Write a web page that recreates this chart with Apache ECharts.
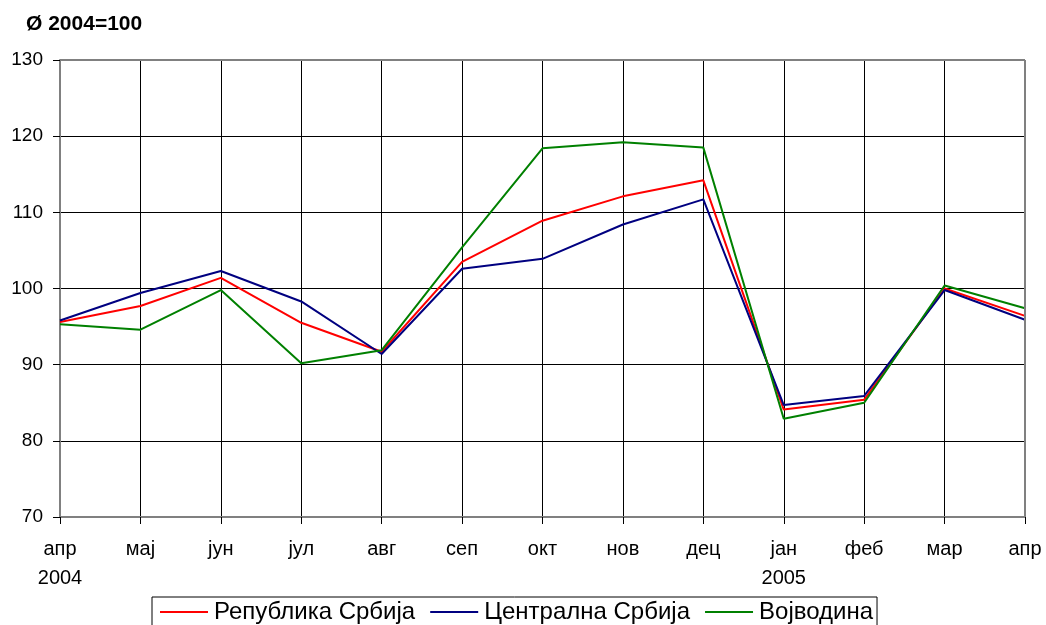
<!DOCTYPE html>
<html>
<head>
<meta charset="utf-8">
<script src="https://cdn.jsdelivr.net/npm/echarts@6/dist/echarts.min.js"></script>
<style>
  html, body { margin: 0; padding: 0; background: #fff; }
  #chart { width: 1046px; height: 625px; }
</style>
</head>
<body>
<div id="chart"></div>
<script>
const months = ["апр\n2004", "мај", "јун", "јул", "авг", "сеп", "окт", "нов", "дец", "јан\n2005", "феб", "мар", "апр"];
const srbija = [95.6, 97.7, 101.4, 95.5, 91.7, 103.5, 108.9, 112.1, 114.2, 84.1, 85.4, 100.0, 96.4];
const centralna = [95.8, 99.4, 102.3, 98.3, 91.4, 102.6, 103.9, 108.4, 111.7, 84.7, 85.9, 99.8, 95.9];
const vojvodina = [95.3, 94.6, 99.8, 90.2, 91.9, 105.4, 118.4, 119.2, 118.5, 82.9, 85.0, 100.4, 97.4];
const seriesNames = ["Република Србија", "Централна Србија", "Војводина"];
const colors = ["#ff0000", "#000080", "#008000"];

let dom = document.getElementById("chart");
let myChart = echarts.init(dom);
let font = "'Liberation Sans', Arial, sans-serif";

let series = [srbija, centralna, vojvodina].map((d, i) => ({
  name: seriesNames[i],
  type: "line",
  symbol: "none",
  smooth: false,
  data: d,
  lineStyle: { color: colors[i], width: 2 },
  itemStyle: { color: colors[i] },
}));

let option = {
  animation: false,
  textStyle: { fontFamily: font },
  title: {
    text: "Ø 2004=100",
    left: 21,
    top: 9,
    textStyle: { fontSize: 21, fontWeight: "bold", color: "#000", fontFamily: font },
  },
  legend: {
    data: seriesNames,
    left: 152,
    top: 597,
    icon: "rect",
    itemWidth: 48,
    itemHeight: 2,
    itemGap: 15,
    padding: [3, 4, 8, 8],
    borderColor: "#000",
    borderWidth: 1,
    textStyle: { fontSize: 24, color: "#000", fontFamily: font, padding: [0, 0, 0, 1] },
  },
  grid: {
    left: 60,
    right: 21,
    top: 60,
    bottom: 108,
    containLabel: false,
    show: false,
  },
  xAxis: {
    type: "category",
    data: months,
    boundaryGap: false,
    axisLine: { show: true, lineStyle: { color: "#808080", width: 2 } },
    axisTick: { show: true, length: 7, lineStyle: { color: "#000" } },
    axisLabel: {
      color: "#000",
      fontSize: 20,
      lineHeight: 29,
      margin: 18,
      interval: 0,
      fontFamily: font,
    },
    splitLine: { show: true, lineStyle: { color: "#000", width: 1 } },
  },
  yAxis: {
    type: "value",
    min: 70,
    max: 130,
    interval: 10,
    axisLine: { show: true, lineStyle: { color: "#808080", width: 2 } },
    axisTick: { show: true, length: 7, lineStyle: { color: "#000" } },
    axisLabel: { color: "#000", fontSize: 19, margin: 17, fontFamily: font },
    splitLine: { show: true, lineStyle: { color: "#000", width: 1 } },
  },
  series: series.concat([
    {
      type: "line",
      data: [],
      markLine: {
        silent: true,
        symbol: "none",
        label: { show: false },
        lineStyle: { color: "#808080", width: 2, type: "solid" },
        data: [{ xAxis: 12 }, { yAxis: 130 }],
      },
    },
  ]),
};

myChart.setOption(option);
</script>
</body>
</html>
